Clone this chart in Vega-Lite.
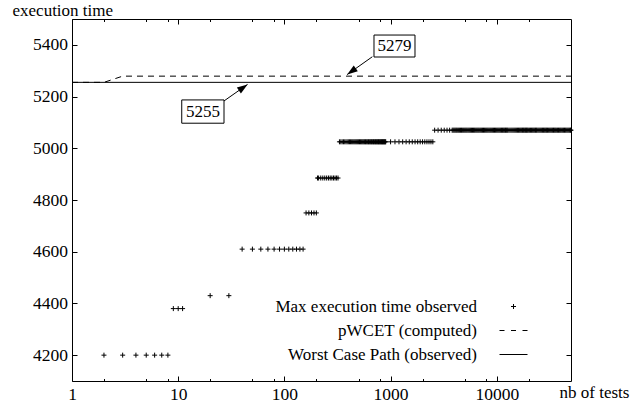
{
  "$schema": "https://vega.github.io/schema/vega-lite/v6.json",
  "width": 499,
  "height": 362,
  "autosize": {"type": "none"},
  "padding": {"left": 72, "top": 19, "right": 72, "bottom": 23},
  "background": "white",
  "config": {
    "font": "Liberation Serif",
    "view": {"stroke": "#000", "strokeWidth": 1},
    "axis": {
      "labelFont": "Liberation Serif", "labelFontSize": 17.5, "labelColor": "#000",
      "tickColor": "#000", "tickWidth": 1, "domain": false, "grid": false,
      "titleFont": "Liberation Serif", "titleFontSize": 17, "titleFontWeight": "normal", "titleColor": "#000"
    },
    "legend": {
      "orient": "none", "legendX": 433, "legendY": 279, "padding": 0,
      "labelFont": "Liberation Serif", "labelFontSize": 17, "labelColor": "#000",
      "labelAlign": "right", "labelOffset": -45, "labelLimit": 0,
      "symbolSize": 100, "symbolStrokeColor": "#000", "symbolFillColor": "transparent", "symbolStrokeWidth": 1,
      "rowPadding": 6
    }
  },
  "datasets": {
    "max": [
      {"n":2,"t":4200},{"n":3,"t":4200},{"n":4,"t":4200},{"n":5,"t":4200},{"n":6,"t":4200},{"n":7,"t":4200},{"n":8,"t":4200},
      {"n":9,"t":4380},{"n":10,"t":4380},{"n":11,"t":4380},
      {"n":20,"t":4430},{"n":30,"t":4430},
      {"n":40,"t":4610},{"n":50,"t":4610},{"n":60,"t":4610},{"n":70,"t":4610},{"n":80,"t":4610},{"n":90,"t":4610},{"n":100,"t":4610},{"n":110,"t":4610},{"n":120,"t":4610},{"n":130,"t":4610},{"n":140,"t":4610},{"n":150,"t":4610},
      {"n":160,"t":4750},{"n":170,"t":4750},{"n":180,"t":4750},{"n":190,"t":4750},{"n":200,"t":4750},
      {"n":205,"t":4885},{"n":210,"t":4885},{"n":220,"t":4885},{"n":230,"t":4885},{"n":240,"t":4885},{"n":250,"t":4885},{"n":260,"t":4885},{"n":270,"t":4885},{"n":280,"t":4885},{"n":290,"t":4885},{"n":300,"t":4885},{"n":310,"t":4885},{"n":320,"t":4885},
      {"n":330,"t":5025},{"n":340,"t":5025},{"n":350,"t":5025},{"n":360,"t":5025},{"n":370,"t":5025},{"n":380,"t":5025},{"n":390,"t":5025},{"n":400,"t":5025},{"n":410,"t":5025},{"n":420,"t":5025},{"n":430,"t":5025},{"n":440,"t":5025},{"n":450,"t":5025},{"n":460,"t":5025},{"n":470,"t":5025},{"n":480,"t":5025},{"n":490,"t":5025},{"n":500,"t":5025},{"n":510,"t":5025},{"n":520,"t":5025},{"n":530,"t":5025},{"n":540,"t":5025},{"n":550,"t":5025},{"n":560,"t":5025},{"n":570,"t":5025},{"n":580,"t":5025},{"n":590,"t":5025},{"n":600,"t":5025},{"n":610,"t":5025},{"n":620,"t":5025},{"n":630,"t":5025},{"n":640,"t":5025},{"n":650,"t":5025},{"n":660,"t":5025},{"n":670,"t":5025},{"n":680,"t":5025},{"n":690,"t":5025},{"n":700,"t":5025},{"n":710,"t":5025},{"n":720,"t":5025},{"n":730,"t":5025},{"n":740,"t":5025},{"n":750,"t":5025},{"n":760,"t":5025},{"n":770,"t":5025},{"n":780,"t":5025},{"n":790,"t":5025},{"n":800,"t":5025},{"n":810,"t":5025},{"n":820,"t":5025},{"n":830,"t":5025},{"n":840,"t":5025},{"n":850,"t":5025},{"n":860,"t":5025},{"n":870,"t":5025},{"n":880,"t":5025},{"n":890,"t":5025},{"n":900,"t":5025},
      {"n":1000,"t":5025},{"n":1100,"t":5025},{"n":1200,"t":5025},{"n":1300,"t":5025},{"n":1400,"t":5025},{"n":1500,"t":5025},{"n":1600,"t":5025},{"n":1700,"t":5025},{"n":1800,"t":5025},{"n":1900,"t":5025},{"n":2000,"t":5025},{"n":2100,"t":5025},{"n":2200,"t":5025},{"n":2300,"t":5025},{"n":2400,"t":5025},{"n":2500,"t":5025},
      {"n":2600,"t":5070},{"n":2800,"t":5070},{"n":3000,"t":5070},{"n":3200,"t":5070},{"n":3400,"t":5070},{"n":3600,"t":5070},
      {"n":3800,"t":5070},{"n":3880,"t":5070},{"n":3960,"t":5070},{"n":4040,"t":5070},{"n":4120,"t":5070},{"n":4200,"t":5070},{"n":4290,"t":5070},{"n":4380,"t":5070},{"n":4470,"t":5070},{"n":4560,"t":5070},{"n":4650,"t":5070},{"n":4740,"t":5070},{"n":4840,"t":5070},{"n":4940,"t":5070},{"n":5040,"t":5070},{"n":5140,"t":5070},{"n":5240,"t":5070},{"n":5350,"t":5070},{"n":5460,"t":5070},{"n":5570,"t":5070},{"n":5680,"t":5070},{"n":5790,"t":5070},{"n":5910,"t":5070},{"n":6030,"t":5070},{"n":6150,"t":5070},{"n":6270,"t":5070},{"n":6400,"t":5070},{"n":6530,"t":5070},{"n":6660,"t":5070},{"n":6790,"t":5070},{"n":6930,"t":5070},{"n":7070,"t":5070},{"n":7210,"t":5070},{"n":7350,"t":5070},{"n":7500,"t":5070},{"n":7650,"t":5070},{"n":7800,"t":5070},{"n":7960,"t":5070},{"n":8120,"t":5070},{"n":8280,"t":5070},{"n":8450,"t":5070},{"n":8620,"t":5070},{"n":8790,"t":5070},{"n":8970,"t":5070},{"n":9150,"t":5070},{"n":9330,"t":5070},{"n":9520,"t":5070},{"n":9710,"t":5070},{"n":9900,"t":5070},{"n":10100,"t":5070},{"n":10300,"t":5070},{"n":10500,"t":5070},{"n":10700,"t":5070},{"n":10900,"t":5070},{"n":11100,"t":5070},{"n":11300,"t":5070},{"n":11500,"t":5070},{"n":11700,"t":5070},{"n":11900,"t":5070},{"n":12100,"t":5070},{"n":12300,"t":5070},{"n":12500,"t":5070},{"n":12700,"t":5070},{"n":13000,"t":5070},{"n":13300,"t":5070},{"n":13600,"t":5070},{"n":13900,"t":5070},{"n":14200,"t":5070},{"n":14500,"t":5070},{"n":14800,"t":5070},{"n":15100,"t":5070},{"n":15400,"t":5070},{"n":15700,"t":5070},{"n":16000,"t":5070},{"n":16300,"t":5070},{"n":16600,"t":5070},{"n":16900,"t":5070},{"n":17200,"t":5070},{"n":17500,"t":5070},{"n":17800,"t":5070},{"n":18100,"t":5070},{"n":18400,"t":5070},{"n":18700,"t":5070},{"n":19000,"t":5070},{"n":19300,"t":5070},{"n":19600,"t":5070},{"n":20000,"t":5070},{"n":20400,"t":5070},{"n":20800,"t":5070},{"n":21200,"t":5070},{"n":21600,"t":5070},{"n":22000,"t":5070},{"n":22400,"t":5070},{"n":22800,"t":5070},{"n":23200,"t":5070},{"n":23600,"t":5070},{"n":24000,"t":5070},{"n":24500,"t":5070},{"n":25000,"t":5070},{"n":25500,"t":5070},{"n":26000,"t":5070},{"n":26500,"t":5070},{"n":27000,"t":5070},{"n":27500,"t":5070},{"n":28000,"t":5070},{"n":28500,"t":5070},{"n":29000,"t":5070},{"n":29500,"t":5070},{"n":30000,"t":5070},{"n":30600,"t":5070},{"n":31200,"t":5070},{"n":31800,"t":5070},{"n":32400,"t":5070},{"n":33000,"t":5070},{"n":33600,"t":5070},{"n":34200,"t":5070},{"n":34800,"t":5070},{"n":35400,"t":5070},{"n":36000,"t":5070},{"n":36700,"t":5070},{"n":37400,"t":5070},{"n":38100,"t":5070},{"n":38800,"t":5070},{"n":39500,"t":5070},{"n":40200,"t":5070},{"n":41000,"t":5070},{"n":41800,"t":5070},{"n":42600,"t":5070},{"n":43400,"t":5070},{"n":44200,"t":5070},{"n":45000,"t":5070},{"n":45900,"t":5070},{"n":46800,"t":5070},{"n":47700,"t":5070},{"n":48600,"t":5070},{"n":49400,"t":5070},{"n":50000,"t":5070}
    ],
    "pwcet": [{"n":1,"t":5255},{"n":2,"t":5255},{"n":3,"t":5279},{"n":50000,"t":5279}],
    "wcp": [{"n":1,"t":5255},{"n":50000,"t":5255}],
    "boxes": [
      {"label":"5279","x1":698,"x2":1698,"y1":5353,"y2":5438,"xc":1088,"yc":5396},
      {"label":"5255","x1":10.8,"x2":27,"y1":5097,"y2":5187,"xc":17.1,"yc":5141}
    ],
    "arrows": [
      {"label":"5279","sx":673,"sy":5354,"tx":390,"ty":5285},
      {"label":"5255","sx":27,"sy":5183,"tx":45,"ty":5247}
    ]
  },
  "resolve": {"axis": {"x": "independent", "y": "independent"}},
  "layer": [
    {
      "data": {"name": "max"},
      "mark": {"type": "point", "filled": false, "color": "#000", "strokeWidth": 1, "size": 100, "opacity": 1},
      "encoding": {
        "x": {"field": "n", "type": "quantitative",
          "scale": {"type": "log", "domain": [1, 50000], "nice": false},
          "axis": {"orient": "bottom",
            "values": [1,2,5,8,10,20,50,80,100,200,500,800,1000,2000,5000,8000,10000,20000],
            "labelExpr": "indexof([1,10,100,1000,10000], datum.value) >= 0 ? format(datum.value, 'd') : ''",
            "tickSize": {"condition": {"test": "indexof([1,10,100,1000,10000], datum.value) >= 0", "value": -5}, "value": -2.5},
            "labelPadding": 9.5, "labelOverlap": false, "labelFlush": false, "labelBaseline": "top",
            "title": "nb of tests", "titleAlign": "left", "titleX": 487, "titleY": 16, "titleBaseline": "alphabetic"}},
        "y": {"field": "t", "type": "quantitative",
          "scale": {"domain": [4100, 5500], "nice": false, "zero": false},
          "axis": {"orient": "left", "values": [4200,4400,4600,4800,5000,5200,5400], "format": "d",
            "tickSize": -5, "labelPadding": 9.5, "labelBaseline": "middle",
            "title": "execution time", "titleAngle": 0, "titleAlign": "left", "titleX": -60, "titleY": -4, "titleBaseline": "alphabetic"}},
        "shape": {"datum": "Max execution time observed", "type": "nominal",
          "scale": {"domain": ["Max execution time observed", "pWCET (computed)", "Worst Case Path (observed)"],
            "range": ["M-0.5,0H0.5M0,-0.5V0.5", "M-2.8,0H-1.8M-0.5,0H0.5M1.8,0H2.8", "M-2.8,0H2.8"]},
          "legend": {"title": null}}
      }
    },
    {
      "data": {"name": "pwcet"},
      "mark": {"type": "line", "color": "#000", "strokeWidth": 1, "strokeDash": [6, 5]},
      "encoding": {
        "x": {"field": "n", "type": "quantitative",
          "scale": {"type": "log", "domain": [1, 50000], "nice": false},
          "axis": {"orient": "top",
            "values": [1,2,5,8,10,20,50,80,100,200,500,800,1000,2000,5000,8000,10000,20000],
            "labels": false,
            "tickSize": {"condition": {"test": "indexof([1,10,100,1000,10000], datum.value) >= 0", "value": -5}, "value": -2.5},
            "title": null}},
        "y": {"field": "t", "type": "quantitative",
          "scale": {"domain": [4100, 5500], "nice": false, "zero": false},
          "axis": {"orient": "right", "values": [4200,4400,4600,4800,5000,5200,5400], "labels": false, "tickSize": -5, "title": null}}
      }
    },
    {
      "data": {"name": "wcp"},
      "mark": {"type": "line", "color": "#000", "strokeWidth": 1},
      "encoding": {
        "x": {"field": "n", "type": "quantitative", "axis": null},
        "y": {"field": "t", "type": "quantitative", "axis": null}
      }
    },
    {
      "data": {"name": "boxes"},
      "mark": {"type": "rect", "fill": "#fff", "stroke": "#000", "strokeWidth": 1},
      "encoding": {
        "x": {"field": "x1", "type": "quantitative", "axis": null},
        "x2": {"field": "x2"},
        "y": {"field": "y1", "type": "quantitative", "axis": null},
        "y2": {"field": "y2"}
      }
    },
    {
      "data": {"name": "boxes"},
      "mark": {"type": "text", "font": "Liberation Serif", "fontSize": 17, "color": "#000", "align": "center", "baseline": "middle"},
      "encoding": {
        "x": {"field": "xc", "type": "quantitative", "axis": null},
        "y": {"field": "yc", "type": "quantitative", "axis": null},
        "text": {"field": "label"}
      }
    },
    {
      "data": {"name": "arrows"},
      "mark": {"type": "rule", "color": "#000", "strokeWidth": 1},
      "encoding": {
        "x": {"field": "sx", "type": "quantitative", "axis": null},
        "y": {"field": "sy", "type": "quantitative", "axis": null},
        "x2": {"field": "tx"},
        "y2": {"field": "ty"}
      }
    },
    {
      "data": {"name": "arrows"},
      "transform": [{"filter": "datum.label == '5279'"}],
      "mark": {"type": "point", "shape": "M0,0L-0.5,1.5L0.5,1.5Z", "filled": true, "color": "#000", "opacity": 1, "size": 200, "angle": 234.5},
      "encoding": {
        "x": {"field": "tx", "type": "quantitative", "axis": null},
        "y": {"field": "ty", "type": "quantitative", "axis": null}
      }
    },
    {
      "data": {"name": "arrows"},
      "transform": [{"filter": "datum.label == '5255'"}],
      "mark": {"type": "point", "shape": "M0,0L-0.5,1.5L0.5,1.5Z", "filled": true, "color": "#000", "opacity": 1, "size": 200, "angle": 54.9},
      "encoding": {
        "x": {"field": "tx", "type": "quantitative", "axis": null},
        "y": {"field": "ty", "type": "quantitative", "axis": null}
      }
    }
  ]
}
